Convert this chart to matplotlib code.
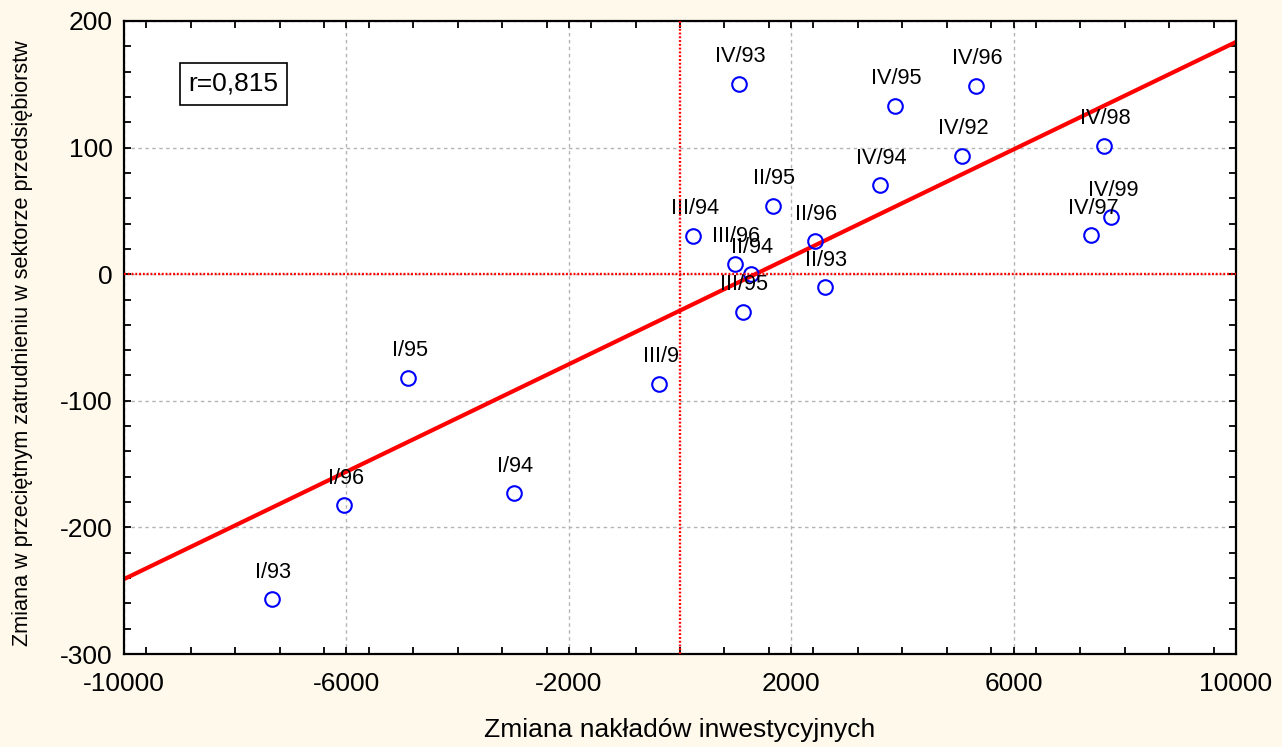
import numpy as np
import matplotlib
matplotlib.use("Agg")
import matplotlib.pyplot as plt
from matplotlib.ticker import MultipleLocator

# ---- data ----
labels = ["I/93", "I/96", "I/95", "I/94", "III/9", "III/94", "II/95", "II/96",
          "III/96", "II/94", "II/93", "III/95", "IV/93", "IV/95", "IV/96",
          "IV/92", "IV/94", "IV/98", "IV/99", "IV/97"]
x_invest = [-7340, -6040, -4890, -2990, -370, 240, 1670, 2430,
            990, 1280, 2600, 1130, 1060, 3860, 5320,
            5070, 3600, 7620, 7760, 7400]
y_employ = [-256.7, -182.7, -81.9, -173.2, -86.4, 30.3, 54.2, 26.1,
            8.2, 0.0, -10.3, -29.8, 150.3, 133.0, 148.7,
            93.7, 70.3, 101.6, 44.8, 30.6]
r_text = "r=0,815"
x_label = "Zmiana nakładów inwestycyjnych"
y_label = "Zmiana w przeciętnym zatrudnieniu w sektorze przedsiębiorstw"
x_ticks = [-10000, -6000, -2000, 2000, 6000, 10000]
y_ticks = [-300, -200, -100, 0, 100, 200]

plt.rcParams['font.family'] = ['Liberation Sans', 'DejaVu Sans']

bg = '#FFF9EC'
fig = plt.figure(figsize=(12.82, 7.47), dpi=100, facecolor=bg)
ax = fig.add_axes([124/1282, 1 - 654/747, (1236-124)/1282, (654-21)/747])
ax.set_facecolor('white')

ax.set_xlim(-10000, 10000)
ax.set_ylim(-300, 200)

# grid
ax.set_xticks(x_ticks)
ax.set_yticks(y_ticks)
ax.xaxis.set_minor_locator(MultipleLocator(800))
ax.yaxis.set_minor_locator(MultipleLocator(20))
ax.grid(True, which='major', color='#b4b4b4', linestyle=(0, (2.5, 2.5)), linewidth=1.0, zorder=0)
ax.set_axisbelow(True)

# regression line
coef = np.polyfit(x_invest, y_employ, 1)
xx = np.array([-10000, 10000])
ax.plot(xx, np.polyval(coef, xx), color='#ff0000', linewidth=3.0, zorder=2, solid_capstyle='butt')

# points
ax.plot(x_invest, y_employ, linestyle='none', marker='o', markersize=10.5,
        markerfacecolor='none', markeredgecolor='#0000ff', markeredgewidth=1.5, zorder=3)

for lab, xv, yv in zip(labels, x_invest, y_employ):
    ax.annotate(lab, (xv, yv), xytext=(1, 19.5), textcoords='offset points',
                ha='center', va='center', fontsize=15.7, color='black', zorder=3)

# zero lines
ax.axvline(0, color='#ff0000', linewidth=1.7, linestyle=(0, (0.8, 0.8)), zorder=4)
ax.axhline(0, color='#ff0000', linewidth=1.7, linestyle=(0, (0.8, 0.8)), zorder=4)

# r box
ax.text(0.0985, 0.9005, r_text, transform=ax.transAxes, ha='center', va='center',
        fontsize=19, bbox=dict(boxstyle='square,pad=0.33', facecolor='white',
                                edgecolor='black', linewidth=1.2), zorder=5)

for s in ax.spines.values():
    s.set_linewidth(1.6)
    s.set_color('black')

ax.tick_params(which='both', direction='in', top=True, right=True, colors='black', width=1.3)
ax.tick_params(which='major', length=5, labelsize=19, pad=8)
ax.tick_params(axis='x', which='major', pad=13)
ax.tick_params(which='minor', length=5)
ax.set_xticklabels([str(t) for t in x_ticks])
ax.set_yticklabels([str(t) for t in y_ticks])

fig.text((124 + 1236) / 2 / 1282, 1 - 737/747, x_label, ha='center', va='baseline', fontsize=19)
fig.text(23/1282, 1 - 343/747, y_label, ha='center', va='center', rotation=90, fontsize=15.6)

fig.savefig('out.png', dpi=100, facecolor=bg)
